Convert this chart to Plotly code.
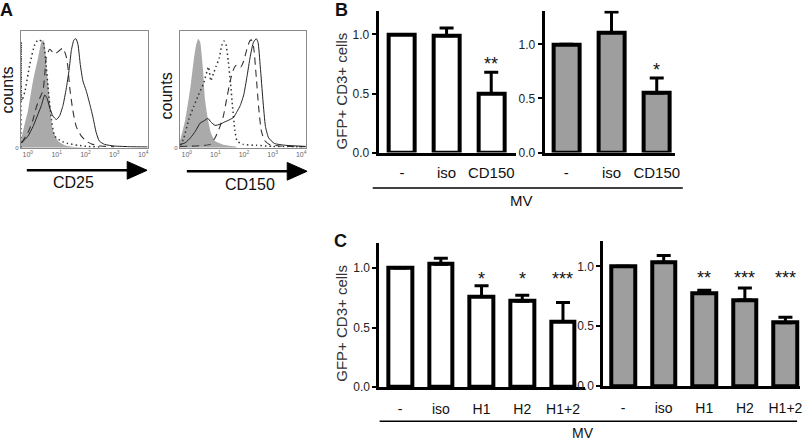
import plotly.graph_objects as go

W, H = 812, 448
FONT = "Liberation Sans, Arial, sans-serif"

# ---------------- Panel A data (log10 fluorescence, counts as % of max) ----------------
decade_ticks = [0, 1, 2, 3, 4]
decade_labels = ["10<sup>0</sup>", "10<sup>1</sup>", "10<sup>2</sup>", "10<sup>3</sup>", "10<sup>4</sup>"]

cd25_iso_x = [-0.24, -0.22, -0.10, 0.01, 0.18, 0.36, 0.47, 0.53, 0.59, 0.64, 0.76, 0.87, 1.05, 1.28, 1.62, 2.0]
cd25_iso_y = [5, 8, 21, 32, 57, 77, 90, 92, 88, 71, 41, 15, 5.6, 2, 0.5, 0]
cd25_dot_x = [-0.24, -0.23, -0.21, -0.10, 0.07, 0.24, 0.36, 0.53, 0.64, 0.70, 0.82, 0.93, 1.16, 1.39, 1.74, 2.08, 2.5]
cd25_dot_y = [0, 90, 40, 48, 71, 88, 92, 90, 69, 52, 24, 10, 5.6, 3.6, 2, 1, 0.5]
cd25_dash_x = [-0.22, 0.01, 0.18, 0.30, 0.41, 0.53, 0.59, 0.64, 0.76, 0.93, 1.10, 1.22, 1.33, 1.39, 1.45, 1.56, 1.68, 1.85, 2.02, 2.25, 2.54, 3.0]
cd25_dash_y = [4, 13, 24, 35, 42, 49, 63, 77, 84, 80, 83, 85, 78, 69, 52, 32, 18, 10, 5.6, 2.8, 1.4, 0.8]
cd25_solid_x = [-0.22, -0.10, 0.01, 0.18, 0.36, 0.47, 0.59, 0.67, 0.76, 0.87, 0.99, 1.10, 1.22, 1.33, 1.43, 1.51, 1.60, 1.67, 1.74, 1.82, 1.91, 2.02, 2.14, 2.25, 2.37, 2.48, 2.66, 3.0, 3.57, 4.15]
cd25_solid_y = [4, 7, 10, 18, 29, 36, 45, 42, 34, 27, 24, 27, 36, 50, 66, 83, 92, 93, 88, 71, 57, 49, 38, 27, 13, 5.6, 2.8, 1.4, 0.8, 0.6]

cd150_iso_x = [-0.24, -0.22, -0.05, 0.13, 0.24, 0.33, 0.40, 0.47, 0.56, 0.64, 0.74, 0.84, 0.99, 1.28, 1.74]
cd150_iso_y = [6, 7, 24, 52, 74, 88, 93, 90, 69, 41, 24, 13, 5.6, 2.5, 0.8]
cd150_dot_x = [-0.22, -0.10, 0.07, 0.24, 0.41, 0.59, 0.76, 0.84, 0.93, 1.02, 1.14, 1.22, 1.30, 1.37, 1.45, 1.53, 1.60, 1.68, 1.76, 1.97, 2.43, 3.0, 4.15]
cd150_dot_y = [2, 8.4, 24, 35, 45, 55, 69, 57, 63, 69, 77, 87, 91, 88, 74, 55, 35, 15, 5.6, 2.8, 2, 1.1, 0.8]
cd150_dash_x = [-0.24, 0.82, 0.99, 1.16, 1.28, 1.39, 1.51, 1.62, 1.71, 1.80, 1.89, 1.99, 2.10, 2.20, 2.26, 2.34, 2.43, 2.51, 2.60, 2.71, 2.89, 3.23, 4.15]
cd150_dash_y = [1, 2.8, 8.4, 18, 27, 41, 56, 66, 70, 71, 69, 74, 84, 91, 92, 85, 60, 35, 15, 6.4, 2.8, 1.4, 0.8]
cd150_solid_x = [-0.22, -0.05, 0.13, 0.30, 0.47, 0.61, 0.74, 0.84, 0.99, 1.16, 1.33, 1.51, 1.64, 1.76, 1.87, 1.99, 2.10, 2.22, 2.33, 2.43, 2.49, 2.57, 2.66, 2.75, 2.86, 3.06, 3.46, 4.15]
cd150_solid_y = [2.8, 4.2, 8.4, 14, 21, 23, 25, 22, 19, 20, 22, 24, 26, 31, 36, 45, 60, 78, 90, 93, 90, 69, 41, 18, 8.4, 3.6, 2, 1.1]

# ---------------- Panels B and C data ----------------
b_cats = ["-", "iso", "CD150"]
b_left_vals = [1.0, 0.99, 0.50]
b_left_err = [None, 0.065, 0.18]
b_left_stars = ["", "", "**"]
b_right_vals = [1.0, 1.11, 0.55]
b_right_err = [None, 0.19, 0.14]
b_right_stars = ["", "", "*"]

c_cats = ["-", "iso", "H1", "H2", "H1+2"]
c_left_vals = [1.0, 1.03, 0.76, 0.72, 0.55]
c_left_err = [None, 0.05, 0.09, 0.05, 0.16]
c_left_stars = ["", "", "*", "*", "***"]
c_right_vals = [1.0, 1.035, 0.78, 0.72, 0.53]
c_right_err = [None, 0.055, 0.02, 0.10, 0.045]
c_right_stars = ["", "", "**", "***", "***"]

y_ticks = [0, 0.5, 1.0]
y_tick_labels = ["0.0", "0.5", "1.0"]


def px(x):
    return x / W


def py(y):
    return 1 - y / H


fig = go.Figure()

# ---------- histograms ----------
hists = [
    ("x", "y", cd25_iso_x, cd25_iso_y, cd25_dot_x, cd25_dot_y, cd25_dash_x, cd25_dash_y, cd25_solid_x, cd25_solid_y),
    ("x2", "y2", cd150_iso_x, cd150_iso_y, cd150_dot_x, cd150_dot_y, cd150_dash_x, cd150_dash_y, cd150_solid_x, cd150_solid_y),
]
for xa, ya, ix, iy, dx, dy, sx_, sy_, lx, ly in hists:
    fig.add_trace(go.Scatter(x=ix, y=iy, mode="lines", fill="tozeroy", fillcolor="#aaaaaa",
                             line=dict(width=0, color="#aaaaaa", shape="spline", smoothing=0.5),
                             xaxis=xa, yaxis=ya, showlegend=False, hoverinfo="skip"))
    fig.add_trace(go.Scatter(x=dx, y=dy, mode="lines",
                             line=dict(width=1.5, color="#333", dash="1.5px,3px", shape="spline", smoothing=0.5),
                             xaxis=xa, yaxis=ya, showlegend=False))
    fig.add_trace(go.Scatter(x=sx_, y=sy_, mode="lines",
                             line=dict(width=1.1, color="#333", dash="7px,5px", shape="spline", smoothing=0.5),
                             xaxis=xa, yaxis=ya, showlegend=False))
    fig.add_trace(go.Scatter(x=lx, y=ly, mode="lines",
                             line=dict(width=1.0, color="#222", shape="spline", smoothing=0.5),
                             xaxis=xa, yaxis=ya, showlegend=False))

# ---------- bars ----------
bar_sets = [
    ("x3", "y3", b_cats, b_left_vals, b_left_err, "white"),
    ("x4", "y4", b_cats, b_right_vals, b_right_err, "#9e9e9e"),
    ("x5", "y5", c_cats, c_left_vals, c_left_err, "white"),
    ("x6", "y6", c_cats, c_right_vals, c_right_err, "#9e9e9e"),
]
for xa, ya, cats, vals, errs, col in bar_sets:
    fig.add_trace(go.Bar(
        x=cats, y=vals, width=0.58, xaxis=xa, yaxis=ya, showlegend=False,
        marker=dict(color=col, line=dict(color="black", width=4)),
        error_y=dict(type="data", array=errs, arrayminus=[0] * len(cats), symmetric=False,
                     color="black", thickness=3, width=7),
    ))

hist_x = dict(range=[-0.24, 4.17], tickvals=decade_ticks, ticktext=decade_labels,
              tickfont=dict(size=7, color="#666", family=FONT), showline=True, mirror=True,
              linecolor="#8a8a8a", linewidth=1, ticks="", showgrid=False, zeroline=False)
hist_y = dict(range=[0, 100], tickvals=[0], ticktext=["0"], tickfont=dict(size=6, color="#666", family=FONT),
              showline=True, mirror=True, linecolor="#8a8a8a", linewidth=1, ticks="",
              showgrid=False, zeroline=False, domain=[py(150), py(31)])

bar_x = dict(showline=True, linewidth=3, linecolor="black", ticks="", showgrid=False, zeroline=False,
             type="category")
bar_y = dict(showline=True, linewidth=3, linecolor="black", ticks="outside", ticklen=4, tickwidth=2,
             tickcolor="black", tickvals=y_ticks, ticktext=y_tick_labels,
             tickfont=dict(size=12, color="#222", family=FONT), showgrid=False, zeroline=False)
b_font = dict(size=15, color="#111", family=FONT)
c_font = dict(size=14, color="#111", family=FONT)

fig.update_layout(
    width=W, height=H, margin=dict(l=0, r=0, t=0, b=0),
    paper_bgcolor="white", plot_bgcolor="white", showlegend=False, bargap=0,
    font=dict(family=FONT, color="#111"),
    xaxis=dict(hist_x, domain=[px(21), px(149)], anchor="y"),
    yaxis=dict(hist_y, anchor="x"),
    xaxis2=dict(hist_x, domain=[px(181), px(308)], anchor="y2"),
    yaxis2=dict(hist_y, anchor="x2"),
    xaxis3=dict(bar_x, tickfont=b_font, ticklabelstandoff=4, domain=[px(381), px(519)], range=[-0.52, 2.55], anchor="y3"),
    yaxis3=dict(bar_y, domain=[py(155), py(11)], range=[0, 1.2], anchor="x3"),
    xaxis4=dict(bar_x, tickfont=b_font, ticklabelstandoff=4, domain=[px(548), px(679)], range=[-0.48, 2.4], anchor="y4"),
    yaxis4=dict(bar_y, domain=[py(155), py(11)], range=[0, 1.31], anchor="x4"),
    xaxis5=dict(bar_x, tickfont=c_font, ticklabelstandoff=7, domain=[px(381.7), px(589)], range=[-0.51, 4.55], anchor="y5"),
    yaxis5=dict(bar_y, domain=[py(393.3), py(246.7)], range=[0, 1.21], anchor="x5"),
    xaxis6=dict(bar_x, tickfont=c_font, ticklabelstandoff=7, domain=[px(607), px(805)], range=[-0.49, 4.36], anchor="y6"),
    yaxis6=dict(bar_y, domain=[py(392.3), py(245)], range=[0, 1.21], anchor="x6"),
)

ann = []


def txt(x, y, s, size, angle=0, bold=False, color="#111"):
    ann.append(dict(x=px(x), y=py(y), xref="paper", yref="paper", text=("<b>%s</b>" % s) if bold else s,
                    showarrow=False, textangle=angle, xanchor="center", yanchor="middle",
                    font=dict(size=size, color=color, family=FONT)))


txt(7, 10, "A", 18, bold=True)
txt(344, 10, "B", 18, bold=True)
txt(343, 245, "C", 18, bold=True)
txt(8, 91, "counts", 16, angle=-90)
txt(168, 97, "counts", 16, angle=-90)
txt(74, 185, "CD25", 16)
txt(252, 187, "CD150", 16)
txt(344, 92, "GFP+ CD3+ cells", 15, angle=-90, color="#333")
txt(344, 328, "GFP+ CD3+ cells", 15, angle=-90, color="#333")
txt(525, 204, "MV", 15)
txt(587, 440, "MV", 14)

# significance stars
for xa, ya, cats, vals, errs, stars in [("x3", "y3", b_cats, b_left_vals, b_left_err, b_left_stars),
                                        ("x4", "y4", b_cats, b_right_vals, b_right_err, b_right_stars)]:
    for c, v, e, s in zip(cats, vals, errs, stars):
        if s:
            ann.append(dict(x=c, y=v + (e or 0), xref=xa, yref=ya, text=s, showarrow=False,
                            yanchor="middle", yshift=8, font=dict(size=18, color="#111", family=FONT)))
for xa, ya, cats, stars, lvl in [("x5", "y5", c_cats, c_left_stars, 0.975),
                                 ("x6", "y6", c_cats, c_right_stars, 0.97)]:
    for c, s in zip(cats, stars):
        if s:
            ann.append(dict(x=c, y=lvl, xref=xa, yref=ya, text=s, showarrow=False,
                            yanchor="middle", yshift=-8, font=dict(size=18, color="#111", family=FONT)))

fig.update_layout(annotations=ann)

shapes = []


def hline(x0, x1, y, w):
    shapes.append(dict(type="line", xref="paper", yref="paper", x0=px(x0), x1=px(x1), y0=py(y), y1=py(y),
                       line=dict(color="black", width=w)))


def tri(x0, x1, yc, hh):
    path = "M %f %f L %f %f L %f %f Z" % (px(x0), py(yc - hh), px(x1), py(yc), px(x0), py(yc + hh))
    shapes.append(dict(type="path", xref="paper", yref="paper", path=path,
                       fillcolor="black", line=dict(color="black", width=1)))


hline(27, 132, 173, 2.5)
tri(128, 148, 173, 9)
hline(188, 292, 174, 2.5)
tri(289, 309, 174, 9)
hline(375, 687, 191, 1.5)
hline(382, 802, 428, 1.5)

fig.update_layout(shapes=shapes)
fig.write_html("out.html", config={"displayModeBar": False},
               post_script="document.body.style.margin='0';document.body.style.overflow='hidden';")
